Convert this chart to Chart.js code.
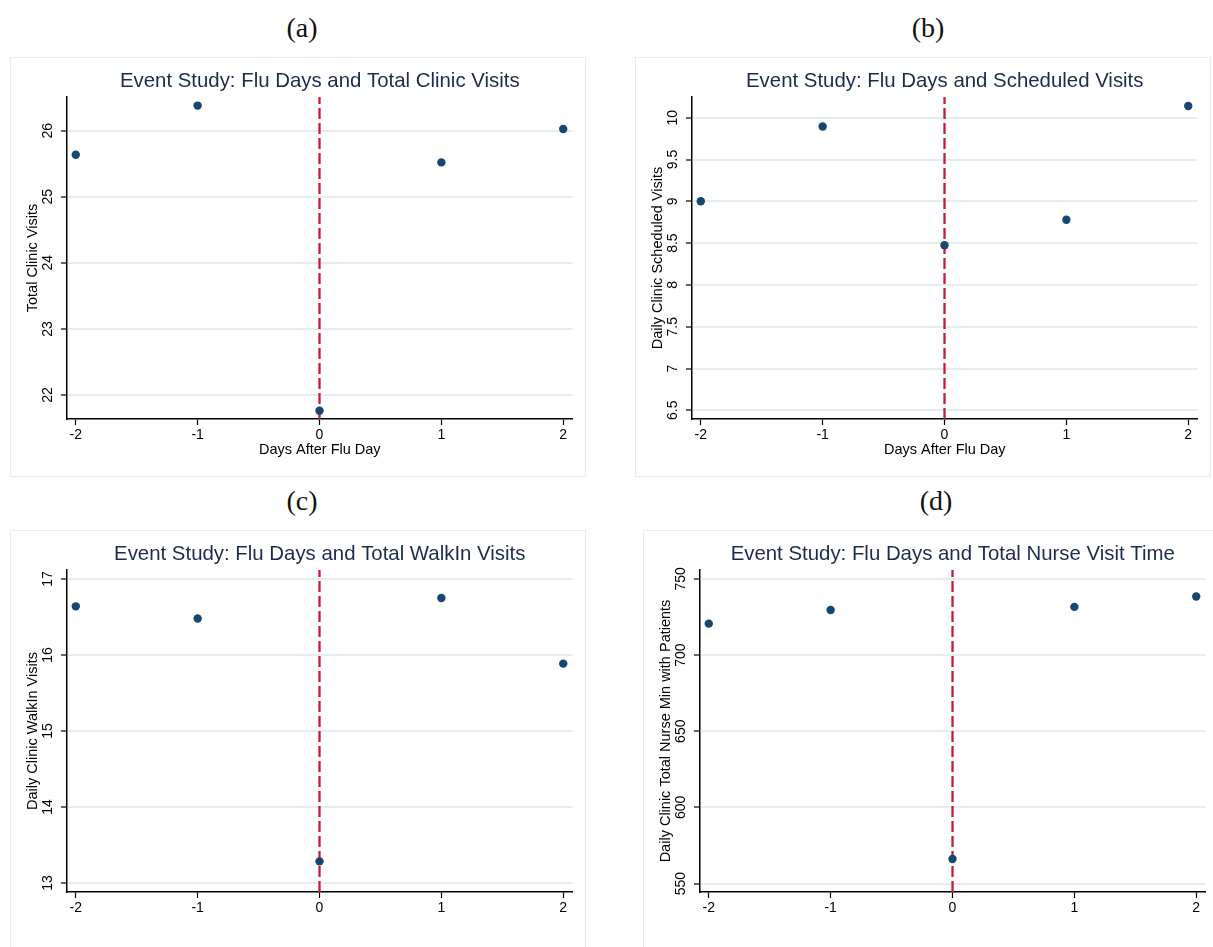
<!DOCTYPE html>
<html><head><meta charset="utf-8">
<script src="https://cdn.jsdelivr.net/npm/chart.js@4.4.0/dist/chart.umd.min.js"></script>
<style>
html,body{margin:0;padding:0;background:#fff;width:1213px;height:947px;overflow:hidden;}
.panel{position:absolute;width:576px;height:420px;}
.panel::after{content:'';position:absolute;left:0;top:0;right:0;bottom:0;border:1px solid #e3eded;pointer-events:none;}
.panel canvas{position:absolute;left:0;top:0;}
.lab{position:absolute;font-family:"Liberation Serif","DejaVu Serif",serif;font-size:28px;line-height:1;color:#111;transform:translateX(-50%);white-space:nowrap;}
</style></head><body>
<div class="lab" style="left:302px;top:14px;">(a)</div>
<div class="lab" style="left:928px;top:14px;">(b)</div>
<div class="lab" style="left:302px;top:487px;">(c)</div>
<div class="lab" style="left:936px;top:487px;">(d)</div>
<div class="panel" style="left:10px;top:57px;"><canvas id="ca" width="576" height="420"></canvas></div>
<div class="panel" style="left:635px;top:57px;"><canvas id="cb" width="576" height="420"></canvas></div>
<div class="panel" style="left:10px;top:530px;"><canvas id="cc" width="576" height="420"></canvas></div>
<div class="panel" style="left:643px;top:530px;"><canvas id="cd" width="576" height="420"></canvas></div>
<script>
// ---- data ----
const days = [-2, -1, 0, 1, 2];
const xTicks = [-2, -1, 0, 1, 2];
const eventDay = 0;

const totalVisits     = [25.635, 26.38, 21.76, 25.52, 26.025];
const scheduledVisits = [9.0, 9.895, 8.475, 8.78, 10.14];
const walkInVisits    = [16.64, 16.48, 13.285, 16.75, 15.886];
const nurseMinutes    = [720.6, 729.6, 566.2, 731.6, 738.4];

const yTicksA = [22, 23, 24, 25, 26];
const yTicksB = [6.5, 7, 7.5, 8, 8.5, 9, 9.5, 10];
const yTicksC = [13, 14, 15, 16, 17];
const yTicksD = [550, 600, 650, 700, 750];

const titleA = 'Event Study: Flu Days and Total Clinic Visits';
const titleB = 'Event Study: Flu Days and Scheduled Visits';
const titleC = 'Event Study: Flu Days and Total WalkIn Visits';
const titleD = 'Event Study: Flu Days and Total Nurse Visit Time';

const yTitleA = 'Total Clinic Visits';
const yTitleB = 'Daily Clinic Scheduled Visits';
const yTitleC = 'Daily Clinic WalkIn Visits';
const yTitleD = 'Daily Clinic Total Nurse Min with Patients';
const xTitle = 'Days After Flu Day';

// ---- drawing ----
const FAMILY = '"Liberation Sans", Arial, sans-serif';

const customText = {
  id: 'customText',
  afterDraw(chart, args, opts) {
    const ctx = chart.ctx;
    const ca = chart.chartArea;
    const ys = chart.scales.y;
    ctx.save();
    ctx.font = '20.4px ' + FAMILY;
    ctx.fillStyle = '#1c2b4d';
    ctx.textAlign = 'center';
    ctx.textBaseline = 'middle';
    ctx.fillText(opts.title, (ca.left + ca.right) / 2, 24);
    ctx.font = '14px ' + FAMILY;
    ctx.fillStyle = '#000';
    ys.ticks.forEach(t => {
      const y = ys.getPixelForValue(t.value);
      ctx.save();
      ctx.translate(ca.left - 18.5, y);
      ctx.rotate(-Math.PI / 2);
      ctx.fillText(String(t.value), 0, 0);
      ctx.restore();
    });
    ctx.restore();
  }
};

function makeChart(id, cfg) {
  new Chart(document.getElementById(id), {
    type: 'scatter',
    data: {
      datasets: [
        {
          data: days.map((d, i) => ({x: d, y: cfg.values[i]})),
          pointRadius: 4.2, pointHoverRadius: 4.2,
          pointBackgroundColor: '#17466e', pointBorderWidth: 0,
          showLine: false, order: 0
        },
        {
          type: 'line',
          data: [{x: eventDay, y: cfg.yMin}, {x: eventDay, y: cfg.yMax}],
          borderColor: '#c8193a', borderWidth: 2.3, borderDash: [11, 4],
          pointRadius: 0, fill: false, order: 1
        }
      ]
    },
    options: {
      responsive: false, animation: false, devicePixelRatio: 1,
      layout: {padding: {top: 40, right: 13.5, bottom: 0, left: 0}},
      plugins: {legend: {display: false}, tooltip: {enabled: false}, customText: {title: cfg.title}},
      scales: {
        x: {
          type: 'linear', min: -2.072, max: 2.076,
          afterBuildTicks: s => { s.ticks = xTicks.map(v => ({value: v})); },
          afterFit: s => { s.height = 58; },
          grid: {drawOnChartArea: false, drawTicks: true, tickLength: 6, tickColor: '#000', tickWidth: 1.2},
          border: {display: true, color: '#000', width: 1.5},
          ticks: {color: '#000', font: {family: FAMILY, size: 14}, padding: 2, maxRotation: 0, autoSkip: false, callback: v => String(v)},
          title: {display: cfg.showX, text: xTitle, color: '#000', font: {family: FAMILY, size: 14.5}, padding: {top: 0, bottom: 18.3}}
        },
        y: {
          type: 'linear', min: cfg.yMin, max: cfg.yMax,
          afterBuildTicks: s => { s.ticks = cfg.yTicks.map(v => ({value: v})); },
          afterFit: s => { s.width = 57; },
          grid: {color: '#e4eef0', lineWidth: 2, drawTicks: true, tickLength: 6, tickColor: '#000', tickWidth: 1.2},
          border: {display: true, color: '#000', width: 1.5},
          ticks: {display: false},
          title: {display: true, text: cfg.yTitle, color: '#000', font: {family: FAMILY, size: 14.5}, padding: {top: 13.8, bottom: 0}}
        }
      }
    },
    plugins: [customText]
  });
}

makeChart('ca', {values: totalVisits, yTicks: yTicksA, yMin: 21.636, yMax: 26.51, title: titleA, yTitle: yTitleA, showX: true});
makeChart('cb', {values: scheduledVisits, yTicks: yTicksB, yMin: 6.396, yMax: 10.248, title: titleB, yTitle: yTitleB, showX: true});
makeChart('cc', {values: walkInVisits, yTicks: yTicksC, yMin: 12.882, yMax: 17.118, title: titleC, yTitle: yTitleC, showX: false});
makeChart('cd', {values: nurseMinutes, yTicks: yTicksD, yMin: 544.5, yMax: 755.8, title: titleD, yTitle: yTitleD, showX: false});
</script>
</body></html>
